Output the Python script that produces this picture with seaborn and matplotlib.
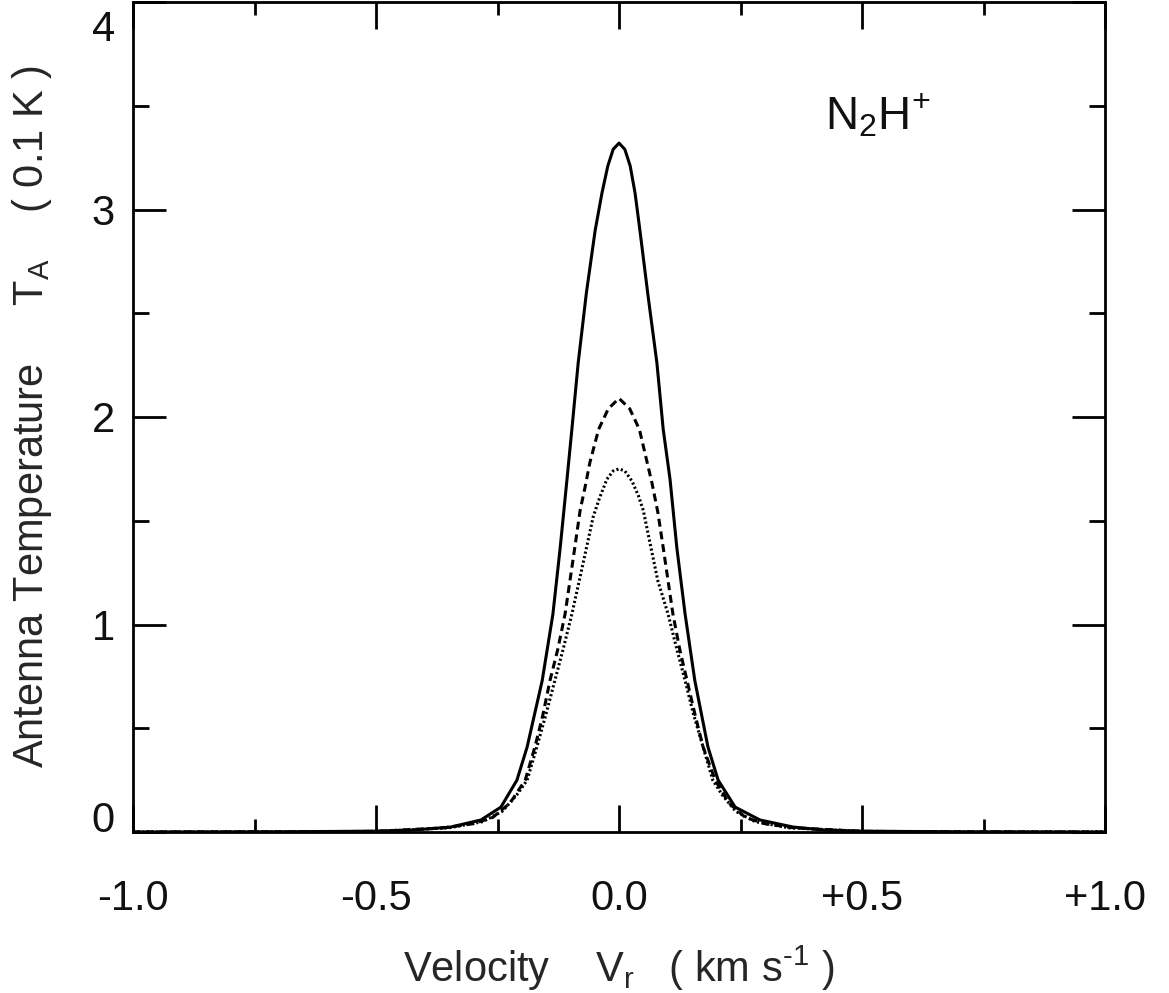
import matplotlib
matplotlib.use("Agg")
import matplotlib.pyplot as plt
from matplotlib.ticker import FixedLocator, MultipleLocator
from matplotlib.transforms import ScaledTranslation
import seaborn as sns

# --- data (velocity km/s, T_A in 0.1 K) ---
solid_x = [-1.0, -0.7, -0.5, -0.42, -0.346, -0.284, -0.243, -0.21, -0.189, -0.158,
           -0.136, -0.121, -0.107, -0.097, -0.084, -0.067, -0.049, -0.035, -0.023,
           -0.012, 0.0, 0.012, 0.023, 0.033, 0.043, 0.060, 0.078, 0.091, 0.105,
           0.119, 0.136, 0.156, 0.183, 0.204, 0.239, 0.290, 0.358, 0.42, 0.5, 0.7, 1.0]
solid_y = [0.0, 0.001, 0.004, 0.010, 0.024, 0.058, 0.12, 0.25, 0.41, 0.73,
           1.05, 1.37, 1.70, 1.94, 2.26, 2.60, 2.90, 3.08, 3.21,
           3.29, 3.32, 3.29, 3.21, 3.08, 2.90, 2.58, 2.26, 1.94, 1.70,
           1.37, 1.05, 0.73, 0.41, 0.25, 0.12, 0.058, 0.024, 0.010, 0.004, 0.001, 0.0]

dash_x = [-1.0, -0.7, -0.5, -0.36, -0.30, -0.26, -0.224, -0.193, -0.173, -0.157,
          -0.142, -0.126, -0.111, -0.101, -0.091, -0.080, -0.070, -0.060, -0.042,
          -0.022, 0.0, 0.022, 0.042, 0.058, 0.068, 0.080, 0.091, 0.101, 0.111,
          0.125, 0.140, 0.157, 0.173, 0.198, 0.226, 0.26, 0.30, 0.36, 0.5, 0.7, 1.0]
dash_y = [0.0, 0.001, 0.003, 0.02, 0.04, 0.07, 0.14, 0.25, 0.41, 0.56,
          0.73, 0.88, 1.05, 1.21, 1.37, 1.55, 1.66, 1.78, 1.94,
          2.04, 2.09, 2.04, 1.94, 1.78, 1.68, 1.54, 1.37, 1.21, 1.05,
          0.88, 0.73, 0.56, 0.41, 0.25, 0.14, 0.07, 0.04, 0.02, 0.003, 0.001, 0.0]

dot_x = [-1.0, -0.7, -0.5, -0.35, -0.28, -0.24, -0.21, -0.189, -0.169, -0.150,
         -0.132, -0.114, -0.097, -0.080, -0.066, -0.053, -0.040, -0.025, -0.012,
         0.0, 0.012, 0.027, 0.040, 0.050, 0.064, 0.080, 0.101, 0.118, 0.136,
         0.153, 0.173, 0.193, 0.212, 0.24, 0.28, 0.35, 0.5, 0.7, 1.0]
dot_y = [0.0, 0.001, 0.003, 0.02, 0.05, 0.10, 0.18, 0.25, 0.41, 0.57,
         0.73, 0.89, 1.05, 1.23, 1.38, 1.52, 1.61, 1.70, 1.74,
         1.75, 1.74, 1.69, 1.62, 1.55, 1.39, 1.21, 1.05, 0.89, 0.73,
         0.57, 0.41, 0.25, 0.18, 0.10, 0.05, 0.02, 0.003, 0.001, 0.0]

x_ticks = [-1.0, -0.5, 0.0, 0.5, 1.0]
x_ticklabels = ["-1.0", "-0.5", "0.0", "+0.5", "+1.0"]
y_ticks = [0, 1, 2, 3, 4]

sns.set_theme(style="ticks")
plt.rcParams["font.family"] = ["Liberation Sans", "DejaVu Sans"]
plt.rcParams["mathtext.fontset"] = "custom"
plt.rcParams["mathtext.rm"] = "Liberation Sans"
plt.rcParams["mathtext.it"] = "Liberation Sans:italic"
plt.rcParams["text.color"] = "#111111"

fig = plt.figure(figsize=(11.69, 9.93), dpi=100)
ax = fig.add_axes([133 / 1169, 1 - 832 / 993, 972 / 1169, 830 / 993])

lw = 2.2
sns.lineplot(x=solid_x, y=solid_y, ax=ax, color="black", lw=lw, sort=False)
sns.lineplot(x=dash_x, y=dash_y, ax=ax, color="black", lw=lw, sort=False,
             linestyle=(0, (2.6, 1.6)))
sns.lineplot(x=dot_x, y=dot_y, ax=ax, color="black", lw=lw, sort=False,
             linestyle=(0, (0.7, 0.8)))

ax.set_xlim(-1.0, 1.0)
ax.set_ylim(0, 4)

ax.xaxis.set_major_locator(FixedLocator(x_ticks))
ax.set_xticklabels(x_ticklabels)
ax.xaxis.set_minor_locator(MultipleLocator(0.25))
ax.yaxis.set_major_locator(FixedLocator(y_ticks))
ax.yaxis.set_minor_locator(MultipleLocator(0.5))

for s in ax.spines.values():
    s.set_linewidth(2.0)
    s.set_color("black")

ax.tick_params(axis="both", which="both", direction="in", top=True, right=True,
               width=2.0, color="black", labelcolor="#111111", labelsize=30)
ax.tick_params(axis="x", which="major", length=19.5, pad=34)
ax.tick_params(axis="x", which="minor", length=9.5)
ax.tick_params(axis="y", which="major", length=23.5, pad=13)
ax.tick_params(axis="y", which="minor", length=11.5)

ylabs = ax.get_yticklabels()
ylabs[0].set_va("baseline")
ylabs[-1].set_va("top")
ylabs[-1].set_transform(ylabs[-1].get_transform()
                        + ScaledTranslation(0, -5.5 / 72, fig.dpi_scale_trans))

ax.set_xlabel("Velocity    V$_\\mathregular{r}$   ( km s$^\\mathregular{\u20101}$ )",
              fontsize=30)
ax.set_ylabel(r"Antenna Temperature     T$_\mathregular{A}$    ( 0.1 K )",
              fontsize=30)
ax.xaxis.set_label_coords(0.5, -0.135)
ax.yaxis.set_label_coords(-0.081, 0.5)

ax.text(0.424, 3.384, r"N$_\mathregular{2}$H$^\mathregular{+}$", fontsize=33,
        ha="left", va="baseline")

fig.savefig("out.png", dpi=100)
